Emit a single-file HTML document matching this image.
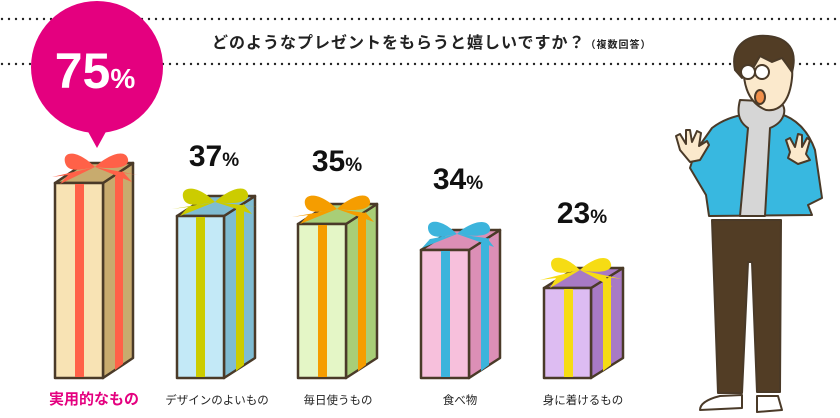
<!DOCTYPE html>
<html><head><meta charset="utf-8"><style>
body{margin:0;background:#fff;}
svg{display:block;font-family:"Liberation Sans","Noto Sans CJK JP",sans-serif;}
</style></head><body>
<svg width="840" height="418" viewBox="0 0 840 418" xmlns="http://www.w3.org/2000/svg">
<line x1="2" y1="19" x2="838" y2="19" stroke="#222" stroke-width="2.4" stroke-dasharray="0 7" stroke-linecap="round"/>
<line x1="2" y1="64" x2="838" y2="64" stroke="#222" stroke-width="2.4" stroke-dasharray="0 7" stroke-linecap="round"/>
<text x="212" y="48" font-size="16" font-weight="bold" fill="#222" letter-spacing="1">どのようなプレゼントをもらうと嬉しいですか？<tspan font-size="10">（複数回答）</tspan></text>

<circle cx="97" cy="67" r="66" fill="#e4007f"/>
<polygon points="86,128 108,128 97,148" fill="#e4007f"/>
<text x="95" y="88" text-anchor="middle" fill="#fff" font-weight="bold" font-size="50">75<tspan font-size="28">%</tspan></text>

<g font-weight="bold" fill="#111" text-anchor="middle">
<text x="214" y="166" font-size="30">37<tspan font-size="19">%</tspan></text>
<text x="337" y="171" font-size="30">35<tspan font-size="19">%</tspan></text>
<text x="458" y="189" font-size="30">34<tspan font-size="19">%</tspan></text>
<text x="582" y="223" font-size="30">23<tspan font-size="19">%</tspan></text>
</g>

<g stroke="#4a3a28" stroke-width="2.5" stroke-linejoin="round">
 <polygon points="103,183 133,163 133,358 103,378" fill="#c8ab6e"/>
 <polygon points="55,183 103,183 133,163 85,163" fill="#c8ab6e"/>
 <rect x="55" y="183" width="48" height="195" fill="#f8e3b4"/>

 <polygon points="224,216 255,196 255,358 224,378" fill="#7fbcd2"/>
 <polygon points="177,216 224,216 255,196 208,196" fill="#7fbcd2"/>
 <rect x="177" y="216" width="47" height="162" fill="#c3e9f7"/>

 <polygon points="346,224 377,204 377,358 346,378" fill="#a8ce77"/>
 <polygon points="298,224 346,224 377,204 329,204" fill="#a8ce77"/>
 <rect x="298" y="224" width="48" height="154" fill="#e4f6c6"/>

 <polygon points="469,250 500,230 500,358 469,378" fill="#dc8fb6"/>
 <polygon points="421,250 469,250 500,230 452,230" fill="#dc8fb6"/>
 <rect x="421" y="250" width="48" height="128" fill="#f7c0dc"/>

 <polygon points="591,288 623,268 623,358 591,378" fill="#a87ac4"/>
 <polygon points="544,288 591,288 623,268 576,268" fill="#a87ac4"/>
 <rect x="544" y="288" width="47" height="90" fill="#ddbcf2"/>
</g>
<rect x="75" y="184" width="9" height="193" fill="#ff6148"/>
<polygon points="115,176 123,171 123,364 115,370" fill="#ff6148"/>
<rect x="196" y="217" width="9" height="160" fill="#cccc00"/>
<polygon points="236,209 244,204 244,365 236,371" fill="#cccc00"/>
<rect x="318" y="225" width="9" height="152" fill="#f59d00"/>
<polygon points="358,217 366,212 366,365 358,371" fill="#f59d00"/>
<rect x="441" y="251" width="9" height="126" fill="#3cb4dc"/>
<polygon points="481,243 489,238 489,365 481,371" fill="#3cb4dc"/>
<rect x="564" y="289" width="9" height="88" fill="#f6dc14"/>
<polygon points="603,281 611,276 611,365 603,371" fill="#f6dc14"/>

<g>
 <path d="M95,167 C75,147 60,152 66,165 C70,173 85,169 95,167 C105,157 125,147 128,159 C130,169 110,169 95,167 Z M95,167 L60,184 L68,175 L52,177 Z M95,167 L132,182 L124,173 L138,175 Z" fill="#ff6148"/>
 <path d="M215,202 C195,182 178,187 184,200 C188,208 205,204 215,202 C225,192 245,182 248,194 C250,204 230,204 215,202 Z M215,202 L180,216 L188,207 L172,209 Z M215,202 L252,214 L244,205 L258,207 Z" fill="#cccc00"/>
 <path d="M337,209 C317,189 300,194 306,207 C310,215 327,211 337,209 C347,199 367,189 370,201 C372,211 352,211 337,209 Z M337,209 L300,224 L308,215 L292,217 Z M337,209 L374,222 L366,213 L380,215 Z" fill="#f59d00"/>
 <path d="M457,234 C439,216 424,220 429,232 C433,240 448,236 457,234 C467,224 487,216 490,228 C492,237 472,237 457,234 Z M457,234 L422,248 L430,239 L414,242 Z M457,234 L494,247 L487,238 L500,240 Z" fill="#3cb4dc"/>
 <path d="M580,270 C562,252 547,256 552,268 C556,276 571,272 580,270 C590,260 608,252 611,264 C613,273 594,273 580,270 Z M580,270 L550,288 L556,278 L540,280 Z M580,270 L612,287 L606,277 L622,279 Z" fill="#f6dc14"/>
</g>

<g font-size="11.5" fill="#222" text-anchor="middle">
<text x="94" y="404" font-size="15" font-weight="bold" fill="#e4007f">実用的なもの</text>
<text x="217" y="404">デザインのよいもの</text>
<text x="338" y="404">毎日使うもの</text>
<text x="460" y="404">食べ物</text>
<text x="583" y="404">身に着けるもの</text>
</g>

<g stroke="#4a3a28" stroke-width="2" stroke-linejoin="round">
 <polygon points="712,220 781,220 780,392 757,392 752,262 748,262 742,393 718,393" fill="#523d25"/>
 <path d="M700,410 C700,402 712,398 720,396 L742,395 L742,408 Z" fill="#fff"/>
 <path d="M757,396 L778,396 L782,410 L757,412 Z" fill="#fff"/>
 <path d="M712,128 C725,118 740,115 748,114 L780,114 C795,118 808,130 815,150 L822,198 L808,205 L812,215 L709,216 L706,195 L690,168 L695,152 Z" fill="#38b8e0"/>
 <path d="M740,100 C738,108 736,120 748,128 L740,216 L765,216 L770,128 C785,122 788,108 780,102 Z" fill="#d6d6d6"/>
 <path d="M680,150 L676,136 L680,134 L686,144 L686,130 L690,130 L692,142 L697,131 L701,133 L699,146 L707,141 L709,145 L700,160 L690,162 Z" fill="#fbe9cc"/>
 <path d="M790,152 L786,140 L790,138 L795,147 L798,134 L802,135 L802,147 L807,138 L810,140 L806,154 L810,160 L798,164 L788,158 Z" fill="#fbe9cc"/>
 <path d="M744,58 C742,80 746,102 766,110 C782,112 790,98 792,78 C794,60 784,50 766,50 C755,50 746,52 744,58 Z" fill="#fbe9cc"/>
 <path d="M735,70 C730,45 748,34 768,36 C788,38 798,50 792,72 C788,66 785,62 782,58 L772,62 L760,56 L752,70 L742,78 Z" fill="#523d25"/>
 <circle cx="748" cy="72" r="7" fill="#fff"/>
 <circle cx="762" cy="72" r="7" fill="#fff"/>
 <ellipse cx="760" cy="97" rx="5" ry="7" fill="#f2904a"/>
</g>
</svg>
</body></html>
